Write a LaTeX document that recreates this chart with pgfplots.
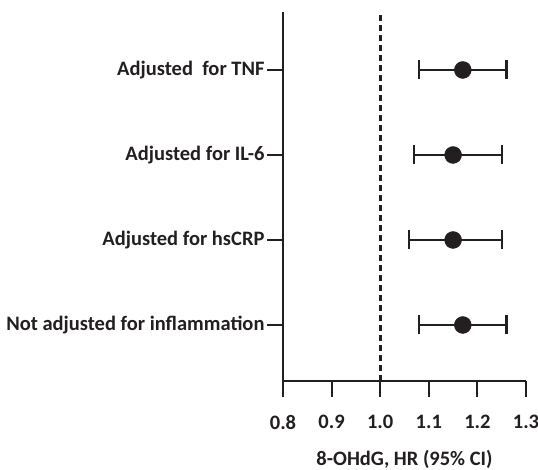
\documentclass[border=0pt]{standalone}
\usepackage{fontspec}
\setmainfont{Carlito}
\usepackage{pgfplots}
\pgfplotsset{compat=1.18}
\definecolor{ink}{HTML}{231F20}
\begin{document}
\begin{tikzpicture}
\path[use as bounding box] (0,0) rectangle (538pt,469pt);
\begin{axis}[
  at={(283pt,88pt)}, anchor=south west,
  scale only axis, width=243pt, height=369pt,
  xmin=0.8, xmax=1.3, ymin=0.341, ymax=4.682,
  axis lines=left, axis line style={ink, line width=2.2pt, -},
  xtick={0.8,0.9,1.0,1.1,1.2,1.3},
  xticklabels={0.8,0.9,1.0,1.1,1.2,1.3},
  ytick={1,2,3,4},
  yticklabels={Not adjusted for inflammation, Adjusted for hsCRP, Adjusted for IL-6, Adjusted\ \ for TNF},
  tick align=outside,
  major tick length=16pt,
  tick style={ink, line width=2.2pt},
  tick label style={font=\fontsize{20.5}{24}\selectfont\bfseries, text=ink},
  xticklabel style={yshift=-14.5pt},
  yticklabel style={xshift=1pt},
  /pgf/number format/assume math mode=true,
  xlabel={8-OHdG, HR (95\% CI)},
  xlabel style={at={(axis description cs:0.5,0)}, anchor=base, yshift=-84pt,
    font=\fontsize{20.5}{24}\selectfont\bfseries, text=ink},
  clip=false,
]
\addplot[ink, line width=3pt, dash pattern=on 6pt off 4pt] coordinates {(1.0,0.341) (1.0,4.682)};
\addplot[ink, only marks, mark=*, mark size=8.5pt, mark options={fill=ink, draw=ink},
  error bars/.cd, x dir=both, x explicit,
  error bar style={ink, line width=2.2pt},
  error mark options={rotate=90, mark size=9.5pt, line width=2.2pt, ink}]
  table[x=x, y=y, x error plus=ep, x error minus=em] {
x y ep em
1.17 4 0.09 0.09
1.15 3 0.10 0.08
1.15 2 0.10 0.09
1.17 1 0.09 0.09
};
\end{axis}
\end{tikzpicture}
\end{document}
